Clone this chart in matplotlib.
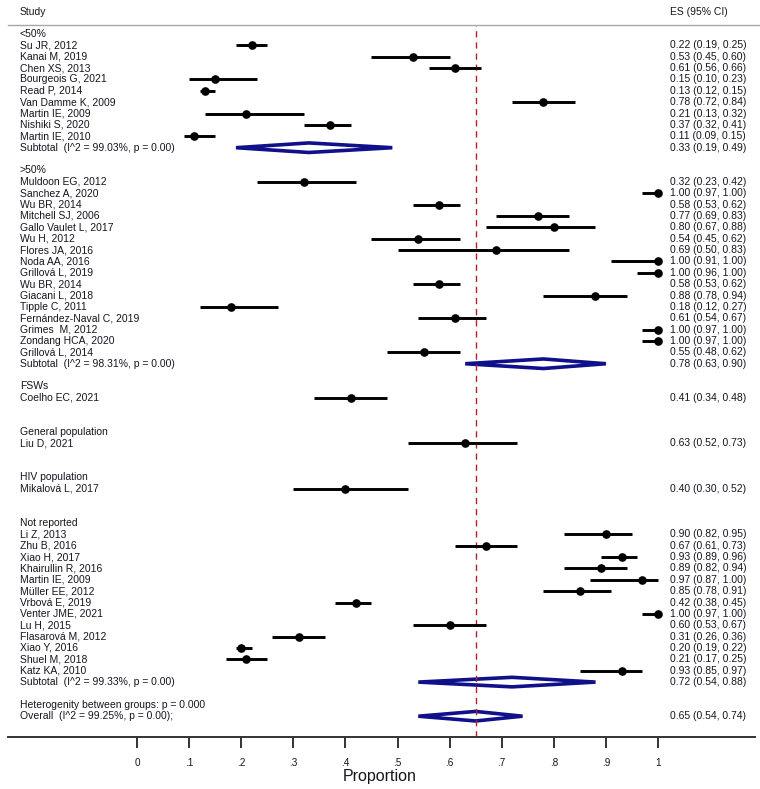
import matplotlib
matplotlib.use("Agg")
import matplotlib.pyplot as plt
from matplotlib.patches import Polygon

plt.rcParams['font.family'] = ['Liberation Sans', 'DejaVu Sans']

# ---------------- data ----------------
groups = ["<50%", ">50%", "FSWs", "General population", "HIV population", "Not reported"]

lt50_studies = ["Su JR, 2012", "Kanai M, 2019", "Chen XS, 2013", "Bourgeois G, 2021", "Read P, 2014",
                "Van Damme K, 2009", "Martin IE, 2009", "Nishiki S, 2020", "Martin IE, 2010"]
lt50_es = [0.22, 0.53, 0.61, 0.15, 0.13, 0.78, 0.21, 0.37, 0.11]
lt50_lo = [0.19, 0.45, 0.56, 0.10, 0.12, 0.72, 0.13, 0.32, 0.09]
lt50_hi = [0.25, 0.60, 0.66, 0.23, 0.15, 0.84, 0.32, 0.41, 0.15]

gt50_studies = ["Muldoon EG, 2012", "Sanchez A, 2020", "Wu BR, 2014", "Mitchell SJ, 2006", "Gallo Vaulet L, 2017",
                "Wu H, 2012", "Flores JA, 2016", "Noda AA, 2016", "Grillová L, 2019", "Wu BR, 2014",
                "Giacani L, 2018", "Tipple C, 2011", "Fernández-Naval C, 2019", "Grimes  M, 2012",
                "Zondang HCA, 2020", "Grillová L, 2014"]
gt50_es = [0.32, 1.00, 0.58, 0.77, 0.80, 0.54, 0.69, 1.00, 1.00, 0.58, 0.88, 0.18, 0.61, 1.00, 1.00, 0.55]
gt50_lo = [0.23, 0.97, 0.53, 0.69, 0.67, 0.45, 0.50, 0.91, 0.96, 0.53, 0.78, 0.12, 0.54, 0.97, 0.97, 0.48]
gt50_hi = [0.42, 1.00, 0.62, 0.83, 0.88, 0.62, 0.83, 1.00, 1.00, 0.62, 0.94, 0.27, 0.67, 1.00, 1.00, 0.62]

fsw_studies = ["Coelho EC, 2021"]
fsw_es = [0.41]
fsw_lo = [0.34]
fsw_hi = [0.48]

gen_studies = ["Liu D, 2021"]
gen_es = [0.63]
gen_lo = [0.52]
gen_hi = [0.73]

hiv_studies = ["Mikalová L, 2017"]
hiv_es = [0.40]
hiv_lo = [0.30]
hiv_hi = [0.52]

nr_studies = ["Li Z, 2013", "Zhu B, 2016", "Xiao H, 2017", "Khairullin R, 2016", "Martin IE, 2009",
              "Müller EE, 2012", "Vrbová E, 2019", "Venter JME, 2021", "Lu H, 2015", "Flasarová M, 2012",
              "Xiao Y, 2016", "Shuel M, 2018", "Katz KA, 2010"]
nr_es = [0.90, 0.67, 0.93, 0.89, 0.97, 0.85, 0.42, 1.00, 0.60, 0.31, 0.20, 0.21, 0.93]
nr_lo = [0.82, 0.61, 0.89, 0.82, 0.87, 0.78, 0.38, 0.97, 0.53, 0.26, 0.19, 0.17, 0.85]
nr_hi = [0.95, 0.73, 0.96, 0.94, 1.00, 0.91, 0.45, 1.00, 0.67, 0.36, 0.22, 0.25, 0.97]

sub_labels = ["Subtotal  (I^2 = 99.03%, p = 0.00)", "Subtotal  (I^2 = 98.31%, p = 0.00)", None, None, None,
              "Subtotal  (I^2 = 99.33%, p = 0.00)"]
sub_es = [0.33, 0.78, None, None, None, 0.72]
sub_lo = [0.19, 0.63, None, None, None, 0.54]
sub_hi = [0.49, 0.90, None, None, None, 0.88]

overall_label = "Overall  (I^2 = 99.25%, p = 0.00);"
overall_es, overall_lo, overall_hi = 0.65, 0.54, 0.74
het_label = "Heterogenity between groups: p = 0.000"

tick_vals = [0, 0.1, 0.2, 0.3, 0.4, 0.5, 0.6, 0.7, 0.8, 0.9, 1.0]
tick_labels = ["0", ".1", ".2", ".3", ".4", ".5", ".6", ".7", ".8", ".9", "1"]

# ---------------- figure ----------------
W, H = 760, 789
fig = plt.figure(figsize=(W / 100, H / 100), dpi=100)

x0_px, x1_px = 137.0, 658.0           # pixel position of 0 and 1
scale = x1_px - x0_px
row0_px, row_h = 34.0, 11.37          # first row pixel y and row spacing
top_px, bot_px = 25.0, 737.0          # header line and axis line

ax = fig.add_axes([0, (H - bot_px) / H, 1, (bot_px - top_px) / H])
ax.set_xlim(-x0_px / scale, (W - x0_px) / scale)
ax.set_ylim((bot_px - row0_px) / row_h, (top_px - row0_px) / row_h)

txt_c = "#15151f"
fs = 7.5
lab_x = 20 / scale - x0_px / scale
es_x = (670 - x0_px) / scale
dia_c = "#10108a"

def fmt(e, l, h):
    return f"{e:.2f} ({l:.2f}, {h:.2f})"

def diamond(y, e, l, h):
    hh = 0.42
    poly = Polygon([[l, y], [e, y - hh], [h, y], [e, y + hh]], closed=True,
                   fill=False, edgecolor=dia_c, linewidth=2.6, joinstyle='miter')
    ax.add_patch(poly)

all_groups = [
    (lt50_studies, lt50_es, lt50_lo, lt50_hi),
    (gt50_studies, gt50_es, gt50_lo, gt50_hi),
    (fsw_studies, fsw_es, fsw_lo, fsw_hi),
    (gen_studies, gen_es, gen_lo, gen_hi),
    (hiv_studies, hiv_es, hiv_lo, hiv_hi),
    (nr_studies, nr_es, nr_lo, nr_hi),
]

row = 0
for gi, (names, es, lo, hi) in enumerate(all_groups):
    ax.text(lab_x, row, groups[gi], fontsize=fs, color=txt_c, va='center', ha='left')
    row += 1
    for n, e, l, h in zip(names, es, lo, hi):
        ax.plot([l, h], [row, row], color='black', lw=2.1, solid_capstyle='butt', zorder=3)
        ax.plot([e], [row], marker='o', color='black', markersize=5.2, zorder=4)
        ax.text(lab_x, row, n, fontsize=fs, color=txt_c, va='center', ha='left')
        ax.text(es_x, row, fmt(e, l, h), fontsize=fs, color=txt_c, va='center', ha='left')
        row += 1
    if sub_labels[gi] is not None:
        ax.text(lab_x, row, sub_labels[gi], fontsize=fs, color=txt_c, va='center', ha='left')
        ax.text(es_x, row, fmt(sub_es[gi], sub_lo[gi], sub_hi[gi]), fontsize=fs, color=txt_c,
                va='center', ha='left')
        diamond(row, sub_es[gi], sub_lo[gi], sub_hi[gi])
    row += 1   # subtotal (possibly hidden) row
    row += 1   # blank row

ax.text(lab_x, row, het_label, fontsize=fs, color=txt_c, va='center', ha='left')
row += 1
ax.text(lab_x, row, overall_label, fontsize=fs, color=txt_c, va='center', ha='left')
ax.text(es_x, row, fmt(overall_es, overall_lo, overall_hi), fontsize=fs, color=txt_c, va='center', ha='left')
diamond(row, overall_es, overall_lo, overall_hi)

# reference line at overall estimate
ax.axvline(overall_es, color='#b0202c', lw=1.0, ls=(0, (4.5, 3.5)), zorder=1)

# header
hdr_row = (12 - row0_px) / row_h
ax.text(lab_x, hdr_row, "Study", fontsize=fs, color=txt_c, va='center', ha='left', clip_on=False)
ax.text(es_x, hdr_row, "ES (95% CI)", fontsize=fs, color=txt_c, va='center', ha='left', clip_on=False)

# spines / axis
for s in ['left', 'right']:
    ax.spines[s].set_visible(False)
ax.spines['top'].set_color('#a8a8a8')
ax.spines['top'].set_linewidth(1.0)
ax.spines['top'].set_bounds(8 / scale - x0_px / scale, ax.get_xlim()[1])
ax.spines['bottom'].set_color('#333333')
ax.spines['bottom'].set_linewidth(1.4)
ax.spines['bottom'].set_bounds(8 / scale - x0_px / scale, (755 - x0_px) / scale)
ax.set_yticks([])
ax.set_xticks(tick_vals)
ax.set_xticklabels(tick_labels)
ax.tick_params(axis='x', direction='out', length=8, width=1.4, color='#333333',
               labelsize=7.2, labelcolor=txt_c, pad=7)
ax.set_xlabel("Proportion", fontsize=11.5, color=txt_c, labelpad=1)

fig.savefig("out.png", dpi=100)
